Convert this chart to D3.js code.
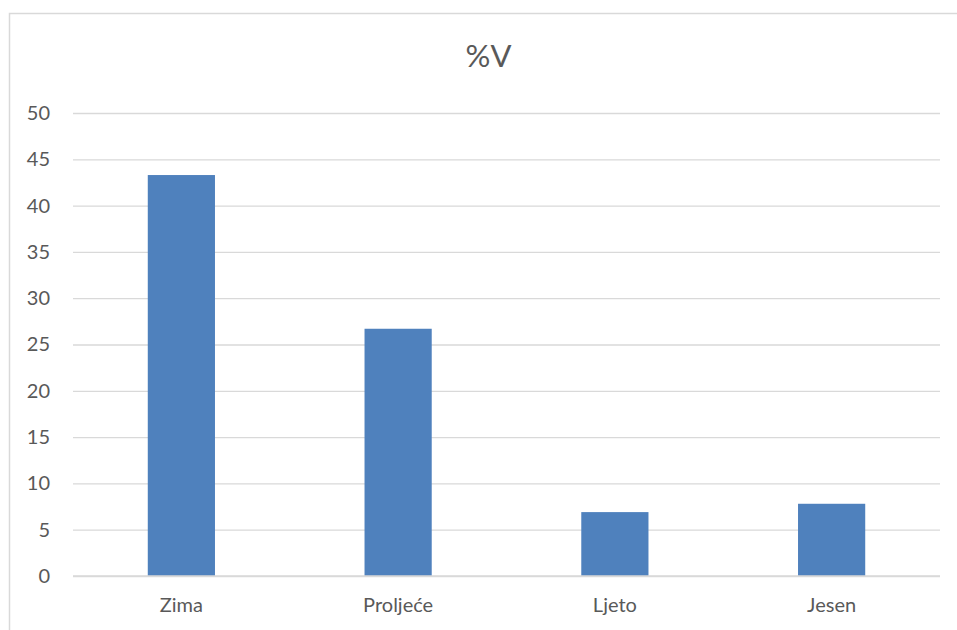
<!DOCTYPE html>
<html>
<head>
<meta charset="utf-8">
<script src="https://cdn.jsdelivr.net/npm/d3@7"></script>
<style>
  html, body { margin: 0; padding: 0; background: #fff; }
  svg { display: block; }
  text { font-family: Lato, "Open Sans", sans-serif; fill: #595959; }
</style>
</head>
<body>
<svg id="chart" width="957" height="630"></svg>
<script>
const categories = ["Zima", "Proljeće", "Ljeto", "Jesen"];
const values = [43.3, 26.7, 6.9, 7.8];
const yTicks = [0, 5, 10, 15, 20, 25, 30, 35, 40, 45, 50];
const title = "%V";

const svg = d3.select("#chart");
const W = 957, H = 630;
const m = { left: 73, right: 17, top: 113, bottom: 54 };

// outer chart border
svg.append("rect")
  .attr("x", 9.5).attr("y", 13.5)
  .attr("width", W + 10).attr("height", H + 10)
  .attr("fill", "none").attr("stroke", "#d9d9d9").attr("stroke-width", 1.5);

const x = d3.scaleBand().domain(categories).range([m.left, W - m.right]).paddingInner(0.69).paddingOuter(0.345);
const y = d3.scaleLinear().domain([0, 50]).range([H - m.bottom, m.top]);

// gridlines
const grid = svg.append("g")
  .attr("transform", `translate(${m.left},0)`)
  .call(d3.axisLeft(y).tickValues(yTicks).tickSize(-(W - m.right - m.left)).tickFormat(""));
grid.select(".domain").remove();
grid.selectAll("line").attr("stroke", "#d9d9d9").attr("stroke-width", 1.3);

// y labels
const yAxis = svg.append("g")
  .attr("transform", `translate(50,0)`)
  .call(d3.axisLeft(y).tickValues(yTicks).tickSize(0).tickPadding(0));
yAxis.select(".domain").remove();
yAxis.selectAll("text").attr("font-size", 20).style("fill", "#595959")
  .style("font-family", "Lato, 'Open Sans', sans-serif");

// bars
svg.append("g").selectAll("rect").data(values).join("rect")
  .attr("x", (d, i) => x(categories[i]))
  .attr("width", x.bandwidth())
  .attr("y", d => y(d))
  .attr("height", d => y(0) - y(d))
  .attr("fill", "#4f81bd");

// zero line on top
svg.append("line")
  .attr("x1", m.left).attr("x2", W - m.right)
  .attr("y1", y(0)).attr("y2", y(0))
  .attr("stroke", "#d9d9d9").attr("stroke-width", 1.3);

// x labels
const xAxis = svg.append("g")
  .attr("transform", `translate(0,${y(0)})`)
  .call(d3.axisBottom(x).tickSize(0).tickPadding(22));
xAxis.select(".domain").remove();
xAxis.selectAll("text").attr("font-size", 20).style("fill", "#595959")
  .style("font-family", "Lato, 'Open Sans', sans-serif");

// title
svg.append("text")
  .attr("x", (m.left + W - m.right) / 2 - 18)
  .attr("y", 67)
  .attr("text-anchor", "middle")
  .attr("font-size", 31)
  .text(title);
</script>
</body>
</html>
